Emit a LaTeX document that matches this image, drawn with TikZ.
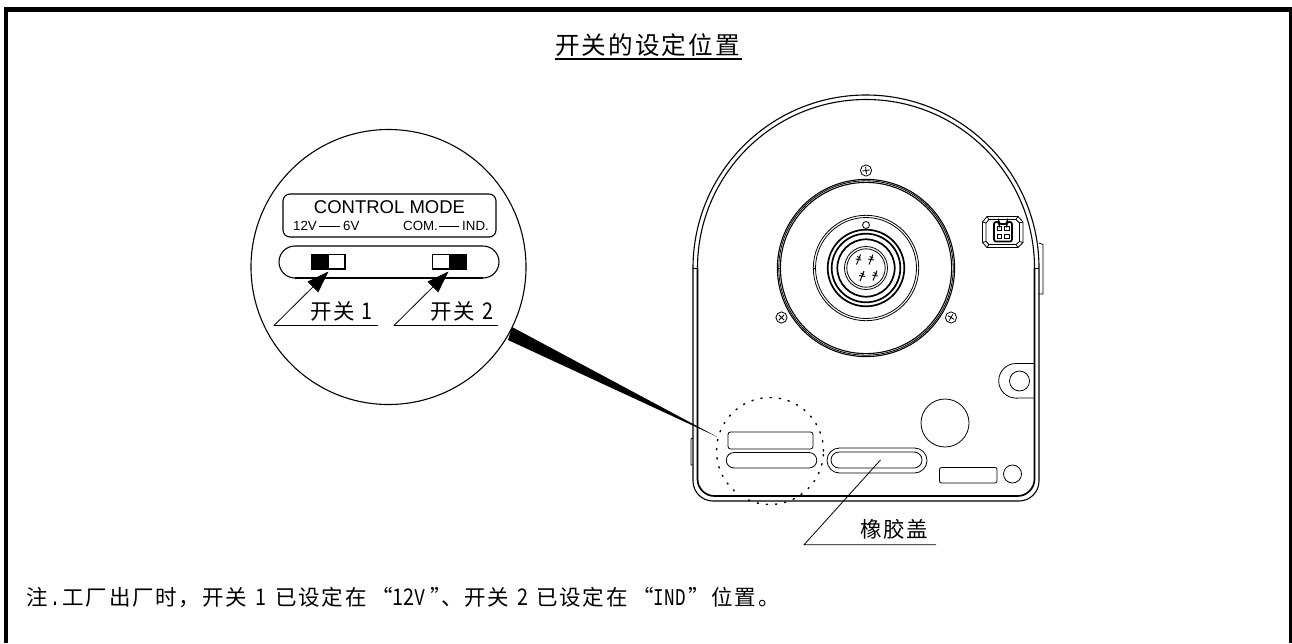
\documentclass[tikz,border=0pt]{standalone}
\usepackage{fontspec}
\setmainfont{Noto Sans CJK SC}
\newfontfamily\cjk[LetterSpace=8.4]{Noto Sans CJK SC}
\newfontfamily\digitfont[FakeStretch=0.86]{Noto Sans CJK SC}
\newfontfamily\arial{Liberation Sans}
\newfontfamily\monolat[FakeStretch=0.733]{Liberation Mono}
\usetikzlibrary{arrows.meta}
\newcommand{\dgt}[1]{\makebox[11pt][c]{\fontsize{23}{24}\selectfont\digitfont #1}}
\newcommand{\mlt}[1]{\makebox[11pt][c]{\fontsize{24}{24}\selectfont\monolat #1}}
\newcommand{\cjkt}[1]{{\fontsize{21.5}{24}\selectfont\cjk #1}}
\tikzset{
  thin line/.style={line width=0.8pt,black},
  mid line/.style={line width=1.1pt,black},
  thick line/.style={line width=1.7pt,black},
  leader/.style={line width=0.8pt,black},
  pointer/.style={line width=0.8pt,black,-{Triangle[length=22pt,width=15pt]}},
  label/.style={inner sep=0pt,anchor=base west},
  small mark/.style={inner sep=0pt,font=\fontsize{13.3}{14}\selectfont\arial},
  screw/.style={line width=0.8pt,black},
}
\newcommand{\screw}[3]{%
  \draw[screw] (#1,#2) circle[radius=5.6pt];
  \draw[screw,rotate around={#3:(#1,#2)}] (#1-3.6,#2)--(#1+3.6,#2) (#1,#2-3.6)--(#1,#2+3.6);}
\newcommand{\pin}[2]{%
  \draw[line width=0.9pt] (#1-2,#2+5)--(#1+2,#2-5) (#1-2.8,#2-0.5)--(#1+2.8,#2+0.5) (#1-1.5,#2-3)--(#1+2,#2-1.5);}
\begin{document}
\begin{tikzpicture}[x=1pt,y=-1pt]
\useasboundingbox (0,0) rectangle (1292,643);
\fill[white] (0,0) rectangle (1292,643);
% frame (open at the bottom edge)
\draw[line width=4.5pt] (6,643)--(6,9.5)--(1291.2,9.5)--(1291.2,643);
% title
\node[label] (title) at (555,54.3) {\fontsize{24.6}{26}\selectfont\cjk 开关的设定位置};
\coordinate (tl) at (555,59.2); \coordinate (tr) at (742,59.2);
\draw[line width=2pt] (tl)--(tr);
% magnifier
\draw[mid line] (388.5,267) circle[radius=137.5pt];
\draw[mid line,rounded corners=7pt] (283,194) rectangle (496,237);
\node[inner sep=0pt,font=\fontsize{18.5}{20}\selectfont\arial] (cm) at (389.5,207.5) {CONTROL MODE};
\node[small mark,anchor=west] (v12) at (293,226) {12V};
\node[small mark,anchor=west] (v6) at (343,226) {6V};
\node[small mark,anchor=west] (com) at (403,226) {COM.};
\node[small mark,anchor=west] (ind) at (462,226) {IND.};
\draw[thin line] ([xshift=1.5pt]v12.east)--([xshift=-3pt]v6.west);
\draw[thin line] ([xshift=1pt]com.east)--([xshift=-3.5pt]ind.west);
% slot
\draw[mid line] (295,246) arc[start angle=90,end angle=270,radius=16pt] -- (483,278) arc[start angle=-90,end angle=90,radius=16pt] -- cycle;
\draw[thick line] (295,278)--(483,278);
% switches
\draw[mid line] (311.5,254.5) rectangle (345,269);
\fill (311,254) rectangle (329,269.5);
\draw[mid line] (432.5,254.5) rectangle (466,269);
\fill (449,254) rectangle (466.5,269.5);
% pointers
\coordinate (p1a) at (274,325.5); \coordinate (p1b) at (328.5,271.5); \coordinate (p1c) at (378,325.5);
\coordinate (p2a) at (394,325.5); \coordinate (p2b) at (448.5,271.5); \coordinate (p2c) at (498,325.5);
\draw[pointer] (p1a)--(p1b);
\draw[leader] (p1a)--(p1c);
\draw[pointer] (p2a)--(p2b);
\draw[leader] (p2a)--(p2c);
\node[label] (s1) at (310,319) {\cjkt{开关}\kern6pt\dgt{1}};
\node[label] (s2) at (430.5,319) {\cjkt{开关}\kern7pt\dgt{2}};
% wedge
\coordinate (w1) at (512,327); \coordinate (w2) at (508,340); \coordinate (w3) at (717.5,437);
\fill (w1)--(w3)--(w2)--cycle;
% body
\draw[mid line] (693,268) arc[start angle=180,end angle=0,radius=173pt];
\draw[mid line] (697.5,268) arc[start angle=180,end angle=0,radius=168.5pt];
\draw[mid line,rounded corners=20pt] (1039,268)--(1039,501)--(693,501)--(693,268);
\draw[thick line,rounded corners=17pt] (1034.5,268)--(1034.5,496)--(697.5,496)--(697.5,268);
\draw[thin line] (693,268)--(697.5,268) (1034.5,268)--(1039,268);
% side tabs
\draw[thin line] (1039,243)--(1043,244.5)--(1043,294)--(1039,294);
\draw[thin line] (693,438)--(691,439)--(691,465)--(693,465);
% large rings
\draw[mid line] (866,268) circle[radius=88.6pt];
\draw[thin line] (866,268) circle[radius=87.2pt];
\draw[mid line] (866,268) circle[radius=85.6pt];
\draw[thin line] (866,268) circle[radius=52.7pt];
\draw[thin line] (866,268) circle[radius=50.5pt];
\draw[thin line] (866,225) circle[radius=3.5pt];
\draw[thin line] (813.3,268)--(816,268);
\draw[thin line] (777.4,268)--(780.5,268);
\draw[thick line] (866,268) circle[radius=38.3pt];
\draw[thick line] (866,268) circle[radius=34.3pt];
\draw[thick line] (866,268) circle[radius=28.7pt];
\draw[thin line] (866,268) circle[radius=21.5pt];
\draw[thin line] (866,268) circle[radius=19.2pt];
\pin{858.5}{259.5}\pin{871}{259.5}\pin{862}{276}\pin{875}{275.5}
% screws
\screw{866}{170.5}{8}
\screw{781.5}{317.5}{45}
\screw{951}{317.5}{60}
% small connector
\draw[thin line] (987,216.5)--(1018,216.5)--(1023,222)--(1023,242.5)--(1018,247.5)--(987,247.5)--(982.5,242.5)--(982.5,222)--cycle;
\draw[thin line] (989,219.5)--(1016,219.5)--(1019.5,223)--(1019.5,241.5)--(1016,244.5)--(989,244.5)--(986,241.5)--(986,223)--cycle;
\draw[thin line] (987,216.5)--(989,219.5) (1018,216.5)--(1016,219.5) (1023,222)--(1019.5,223) (1023,242.5)--(1019.5,241.5) (1018,247.5)--(1016,244.5) (987,247.5)--(989,244.5) (982.5,242.5)--(986,241.5) (982.5,222)--(986,223);
\draw[thick line,rounded corners=2pt] (994,222)--(999,222)--(999,224)--(1007,224)--(1007,222)--(1012,222)--(1012,241.5)--(994,241.5)--cycle;
\draw[line width=0.7pt] (997,226) rectangle (1001.5,230.5) (1004.5,226) rectangle (1009,230.5) (997,234) rectangle (1001.5,238.5) (1004.5,234) rectangle (1009,238.5);
% lug
\draw[thin line] (1035,363.5)--(1016,363.5) arc[start angle=90,end angle=270,radius=17.3pt]--(1035,398);
\draw[thin line] (1019.5,381) circle[radius=10pt];
% lower parts
\draw[thin line] (945,423) circle[radius=24pt];
\draw[thin line,rounded corners=2pt] (939.5,467.5) rectangle (997,483);
\draw[thin line] (1012.5,474) circle[radius=9pt];
\draw[thin line] (839.5,448)--(914.5,448) arc[start angle=90,end angle=-90,radius=12.5pt]--(839.5,473) arc[start angle=270,end angle=90,radius=12.5pt]--cycle;
\draw[thin line] (839,452)--(914,452) arc[start angle=90,end angle=-90,radius=8pt]--(839,468) arc[start angle=270,end angle=90,radius=8pt]--cycle;
\draw[thin line,rounded corners=2.5pt] (728,432) rectangle (813,449);
\draw[thin line] (734,452.5)--(809,452.5) arc[start angle=90,end angle=-90,radius=7.75pt]--(734,468) arc[start angle=270,end angle=90,radius=7.75pt]--cycle;
\draw[line width=1.5pt,line cap=round,dash pattern=on 1.2pt off 8pt] (770,451) circle[radius=53.5pt];
% rubber cover leader
\coordinate (c1) at (880.5,460); \coordinate (c2) at (804,544.8); \coordinate (c3) at (936,544.8);
\draw[leader] (c1)--(c2)--(c3);
\node[label] (cover) at (860,537.7) {\cjkt{橡胶盖}};
% note
\node[label] (note) at (26,605.7) {\cjkt{注}\makebox[14.7pt][c]{\fontsize{24}{24}\selectfont\monolat .}\cjkt{工厂出厂时，}\kern1.7pt\cjkt{开关}\makebox[27.4pt][c]{\dgt{1}}\kern1pt\cjkt{已设定在}\makebox[25.3pt][r]{\cjkt{“}\kern-1pt}\dgt{1}\dgt{2}\mlt{V}\kern5pt\makebox[11pt][l]{\cjkt{”}}\cjkt{、开关}\makebox[27pt][c]{\dgt{2}}\cjkt{已设定在}\makebox[25.3pt][r]{\cjkt{“}\kern-1pt}\mlt{I}\mlt{N}\mlt{D}\kern2.5pt\makebox[23.3pt][l]{\cjkt{”}}\cjkt{位置。}};
\end{tikzpicture}
\end{document}
